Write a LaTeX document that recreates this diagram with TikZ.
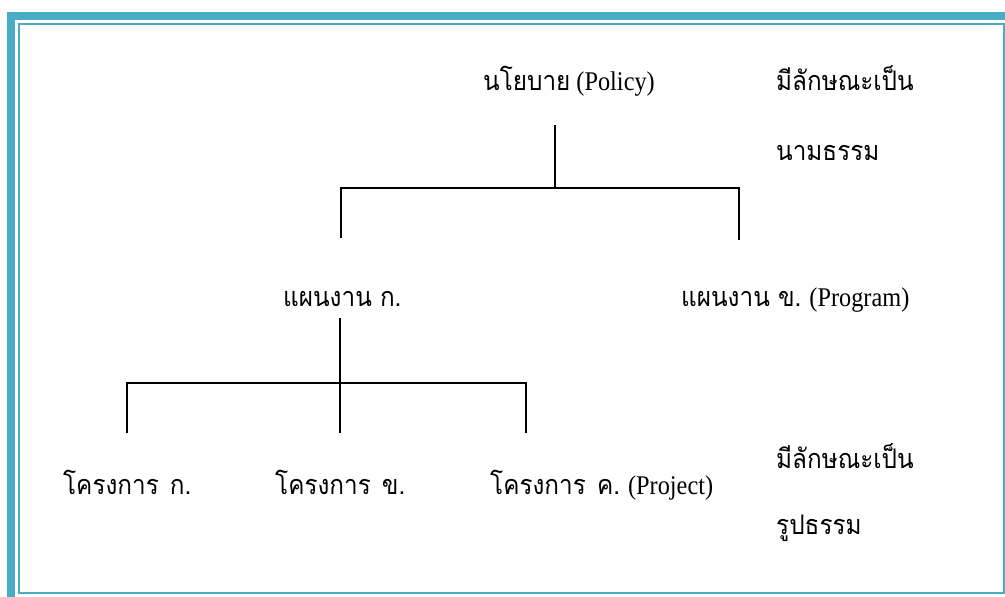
\documentclass[tikz,border=0pt]{standalone}
\usepackage{fontspec}
\setmainfont[FakeStretch=0.9]{Liberation Serif}
\newfontfamily\thaifont[Script=Thai,FakeStretch=0.9]{Loma}
\definecolor{frameblue}{HTML}{4BACC6}
\tikzset{
  lbl/.style={anchor=base west, inner sep=0pt, font=\fontsize{27}{30}\selectfont},
  tree/.style={line width=1.6pt, black},
}
\newcommand{\thtxt}[1]{{\thaifont\fontsize{27}{30}\selectfont #1}}
\begin{document}
\begin{tikzpicture}[x=1pt,y=-1pt]
\useasboundingbox (0,0) rectangle (1005,597);
% frame
\fill[frameblue] (7,12) rectangle (1005,20);
\fill[frameblue] (7,12) rectangle (15,597);
\draw[frameblue, line width=2pt] (19,24) rectangle (1004,593);
% labels
\node[lbl] (policy) at (483,90) {\thtxt{นโยบาย} (Policy)};
\node[lbl] (abs1) at (776,90) {\thtxt{มีลักษณะเป็น}};
\node[lbl] (abs2) at (776,160) {\thtxt{นามธรรม}};
\node[lbl] (progA) at (283,306) {\thtxt{แผนงาน ก.}};
\node[lbl] (progB) at (681,306) {\thtxt{แผนงาน ข.} (Program)};
\node[lbl] (projA) at (63,494) {\thtxt{โครงการ\ \kern3pt ก.}};
\node[lbl] (projB) at (275,494) {\thtxt{โครงการ\ \kern3pt ข.}};
\node[lbl] (projC) at (490,494) {\thtxt{โครงการ\ \kern3pt ค.} (Project)};
\node[lbl] (con1) at (776,468) {\thtxt{มีลักษณะเป็น}};
\node[lbl] (con2) at (776,534) {\thtxt{รูปธรรม}};
% junction coordinates
\coordinate (pTop) at (555,125);
\coordinate (pJ) at (555,188);
\coordinate (aJ) at (341,188);
\coordinate (bJ) at (739,188);
\coordinate (aEnd) at (341,238);
\coordinate (bEnd) at (739,240);
\coordinate (gTop) at (340,318);
\coordinate (gJ) at (340,383);
\coordinate (g1J) at (127,383);
\coordinate (g3J) at (526,383);
\coordinate (g1End) at (127,433);
\coordinate (g2End) at (340,433);
\coordinate (g3End) at (526,433);
% connectors
\draw[tree] (pTop) -- (pJ);
\draw[tree] (aEnd) |- (bJ) -- (bEnd);
\draw[tree] (gTop) -- (g2End);
\draw[tree] (g1End) |- (g3J) -- (g3End);
\end{tikzpicture}
\end{document}
